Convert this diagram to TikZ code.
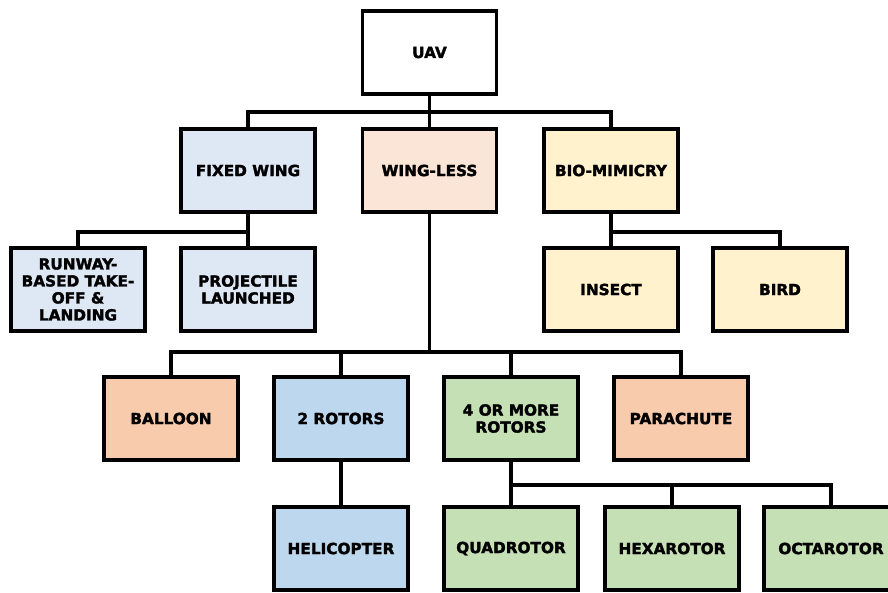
\documentclass[tikz,border=0pt]{standalone}
\usepackage{fontspec}
\setmainfont{DejaVu Sans}[BoldFeatures={FakeBold=2}]
\definecolor{cwhite}{HTML}{FFFFFF}
\definecolor{cfw}{HTML}{DEE8F4}
\definecolor{cwl}{HTML}{FBE5D6}
\definecolor{cbio}{HTML}{FFF2CC}
\definecolor{corange}{HTML}{F8CBAD}
\definecolor{cblue}{HTML}{BDD7EE}
\definecolor{cgreen}{HTML}{C5E0B4}
\tikzset{
  box/.style={draw=black, line width=3.2pt, minimum width=134pt, minimum height=83pt,
    inner sep=2pt, align=center, font=\fontsize{15.3}{17}\selectfont\bfseries},
  link/.style={draw=black, line width=3.2pt}
}
\begin{document}
\begin{tikzpicture}[x=1pt,y=-1pt]
\clip (0,0) rectangle (888,592);
\useasboundingbox (0,0) rectangle (888,592);
\fill[white] (0,0) rectangle (888,592);
% level 0
\node[box, fill=cwhite] (uav) at (429.5,52.5) {UAV};
% level 1
\node[box, fill=cfw] (fw) at (248,170.5) {FIXED WING};
\node[box, fill=cwl] (wl) at (429.5,170.5) {WING-LESS};
\node[box, fill=cbio] (bio) at (611,170.5) {BIO-MIMICRY};
% level 2
\node[box, fill=cfw] (rw) at (78,289.5) {RUNWAY-\\BASED TAKE-\\OFF \&\\LANDING};
\node[box, fill=cfw] (pl) at (248,289.5) {PROJECTILE\\LAUNCHED};
\node[box, fill=cbio] (ins) at (611,289.5) {INSECT};
\node[box, fill=cbio] (bird) at (780,289.5) {BIRD};
% level 3
\node[box, fill=corange] (bal) at (171,418.5) {BALLOON};
\node[box, fill=cblue] (two) at (341,418.5) {2 ROTORS};
\node[box, fill=cgreen] (four) at (511,418.5) {4 OR MORE\\ROTORS};
\node[box, fill=corange] (para) at (681,418.5) {PARACHUTE};
% level 4
\node[box, fill=cblue] (heli) at (341,548.5) {HELICOPTER};
\node[box, fill=cgreen] (quad) at (511,548.5) {QUADROTOR};
\node[box, fill=cgreen] (hexa) at (672,548.5) {HEXAROTOR};
\node[box, fill=cgreen] (octa) at (831,548.5) {OCTAROTOR};
% connectors
\coordinate (b1) at (429.5,112);
\coordinate (b2) at (248,232);
\coordinate (b3) at (611,232);
\coordinate (b4) at (429.5,352);
\coordinate (b5) at (511,485);
\draw[link] (uav.south) -- (wl.north);
\draw[link] (fw.north) |- (b1) -| (bio.north);
\draw[link] (fw.south) -- (pl.north);
\draw[link] (b2) -| (rw.north);
\draw[link] (bio.south) -- (ins.north);
\draw[link] (b3) -| (bird.north);
\draw[link] (wl.south) -- (b4);
\draw[link] (bal.north) |- (b4) -| (para.north);
\draw[link] (two.north) -- (two.north |- b4);
\draw[link] (four.north) -- (four.north |- b4);
\draw[link] (two.south) -- (heli.north);
\draw[link] (four.south) -- (quad.north);
\draw[link] (b5) -| (octa.north);
\draw[link] (hexa.north) -- (hexa.north |- b5);
\end{tikzpicture}
\end{document}
